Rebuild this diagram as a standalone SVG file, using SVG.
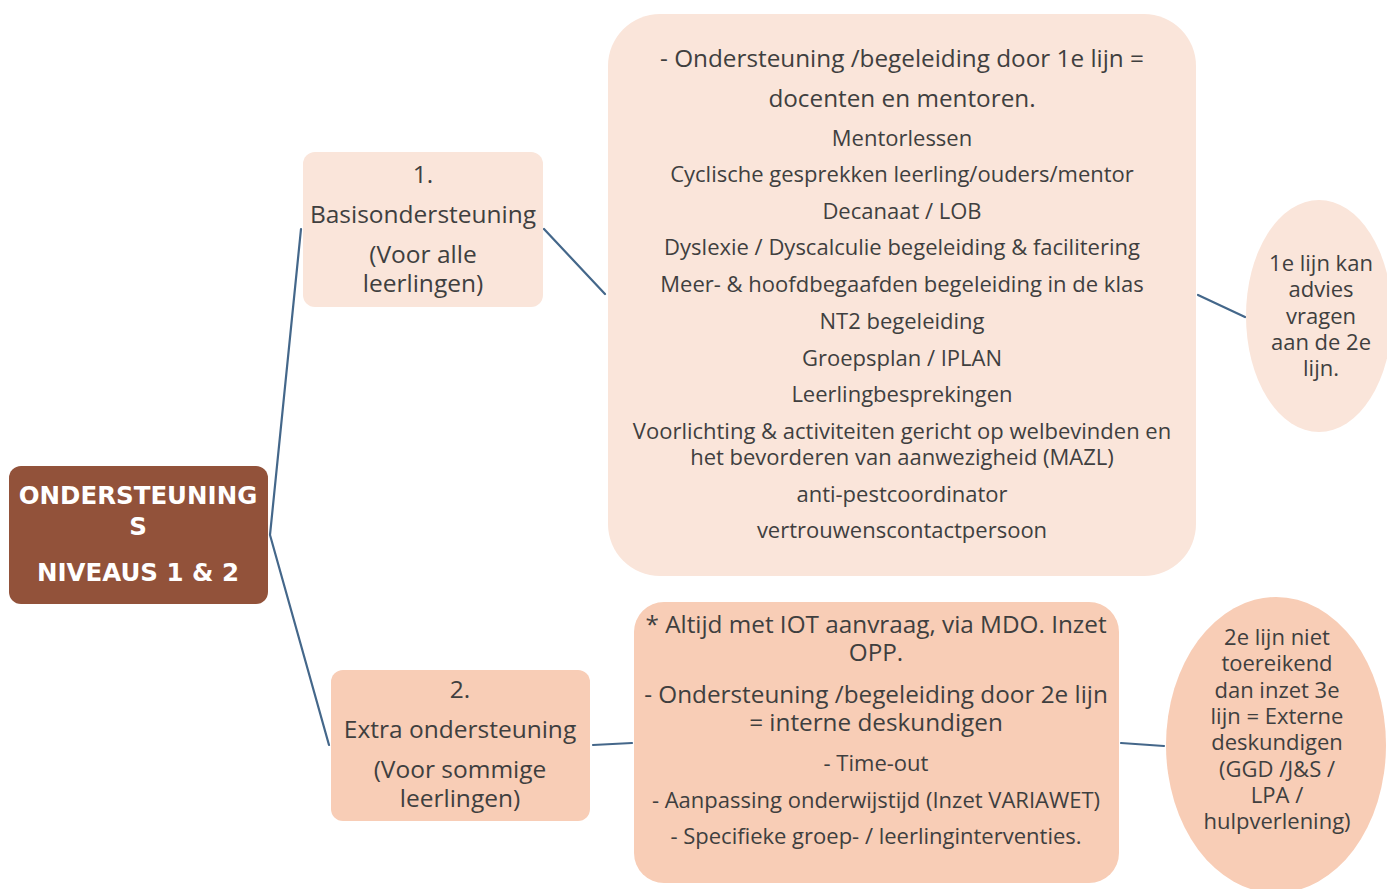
<svg xmlns="http://www.w3.org/2000/svg" width="1387" height="889" viewBox="0 0 1387 889">
<style>
.t{font-family:"Open Sans","Liberation Sans",sans-serif;fill:#3f3f3f;text-anchor:middle}
.l{font-size:24.3px}
.n{font-size:24.5px}
.s{font-size:22px}
.e{font-size:22px}
.r{font-family:"DejaVu Sans","Open Sans",sans-serif;font-weight:bold;font-size:24.5px;fill:#ffffff;text-anchor:middle}
.lt{fill:#fae5da}
.dk{fill:#f8cdb6}
.c{stroke:#44678a;stroke-width:2.2;fill:none;stroke-linecap:round}
</style>
<rect width="1387" height="889" fill="#ffffff"/>
<g id="connectors">
<polyline class="c" points="301,229 270,535 329,745"/>
<line class="c" x1="544" y1="229" x2="605" y2="294"/>
<line class="c" x1="1198" y1="295" x2="1245" y2="317"/>
<line class="c" x1="593" y1="745" x2="632" y2="743"/>
<line class="c" x1="1121" y1="743" x2="1164" y2="746"/>
</g>
<g id="root">
<rect x="9" y="466" width="259" height="138" rx="12" fill="#92523a"/>
<text class="r" x="138" y="504">ONDERSTEUNING<tspan x="138" y="535">S</tspan></text>
<text class="r" x="138" y="581">NIVEAUS 1 &amp; 2</text>
</g>
<g id="node1">
<rect class="lt" x="303" y="152" width="240" height="155" rx="12"/>
<text class="t n" x="423" y="183">1.</text>
<text class="t n" x="423" y="223">Basisondersteuning</text>
<text class="t n" x="423" y="263">(Voor alle<tspan x="423" y="292">leerlingen)</tspan></text>
</g>
<g id="box1">
<rect class="lt" x="608" y="14" width="588" height="562" rx="52"/>
<text class="t l" x="902" y="67">- Ondersteuning /begeleiding door 1e lijn =</text>
<text class="t l" x="902" y="107">docenten en mentoren.</text>
<text class="t s" x="902" y="146">Mentorlessen</text>
<text class="t s" x="902" y="182">Cyclische gesprekken leerling/ouders/mentor</text>
<text class="t s" x="902" y="219">Decanaat / LOB</text>
<text class="t s" x="902" y="255">Dyslexie / Dyscalculie begeleiding &amp; facilitering</text>
<text class="t s" x="902" y="292">Meer- &amp; hoofdbegaafden begeleiding in de klas</text>
<text class="t s" x="902" y="329">NT2 begeleiding</text>
<text class="t s" x="902" y="366">Groepsplan / IPLAN</text>
<text class="t s" x="902" y="402">Leerlingbesprekingen</text>
<text class="t s" x="902" y="439">Voorlichting &amp; activiteiten gericht op welbevinden en<tspan x="902" y="465">het bevorderen van aanwezigheid (MAZL)</tspan></text>
<text class="t s" x="902" y="502">anti-pestcoordinator</text>
<text class="t s" x="902" y="538">vertrouwenscontactpersoon</text>
</g>
<g id="ellipse1">
<ellipse class="lt" cx="1319" cy="316" rx="73" ry="116"/>
<text class="t e" x="1321" y="271">1e lijn kan<tspan x="1321" y="297">advies</tspan><tspan x="1321" y="324">vragen</tspan><tspan x="1321" y="350">aan de 2e</tspan><tspan x="1321" y="376">lijn.</tspan></text>
</g>
<g id="node2">
<rect class="dk" x="331" y="670" width="259" height="151" rx="12"/>
<text class="t n" x="460" y="698">2.</text>
<text class="t n" x="460" y="738">Extra ondersteuning</text>
<text class="t n" x="460" y="778">(Voor sommige<tspan x="460" y="807">leerlingen)</tspan></text>
</g>
<g id="box2">
<rect class="dk" x="634" y="602" width="485" height="281" rx="30"/>
<text class="t l" x="876" y="633">* Altijd met IOT aanvraag, via MDO. Inzet<tspan x="876" y="661">OPP.</tspan></text>
<text class="t l" x="876" y="703">- Ondersteuning /begeleiding door 2e lijn<tspan x="876" y="731">= interne deskundigen</tspan></text>
<text class="t s" x="876" y="771">- Time-out</text>
<text class="t s" x="876" y="808">-  Aanpassing onderwijstijd (Inzet VARIAWET)</text>
<text class="t s" x="876" y="844">- Specifieke groep- / leerlinginterventies.</text>
</g>
<g id="ellipse2">
<ellipse class="dk" cx="1276" cy="745" rx="110" ry="148"/>
<text class="t e" x="1277" y="645">2e lijn niet<tspan x="1277" y="671">toereikend</tspan><tspan x="1277" y="698">dan inzet 3e</tspan><tspan x="1277" y="724">lijn = Externe</tspan><tspan x="1277" y="750">deskundigen</tspan><tspan x="1277" y="777">(GGD /J&amp;S /</tspan><tspan x="1277" y="803">LPA /</tspan><tspan x="1277" y="829">hulpverlening)</tspan></text>
</g>
</svg>
